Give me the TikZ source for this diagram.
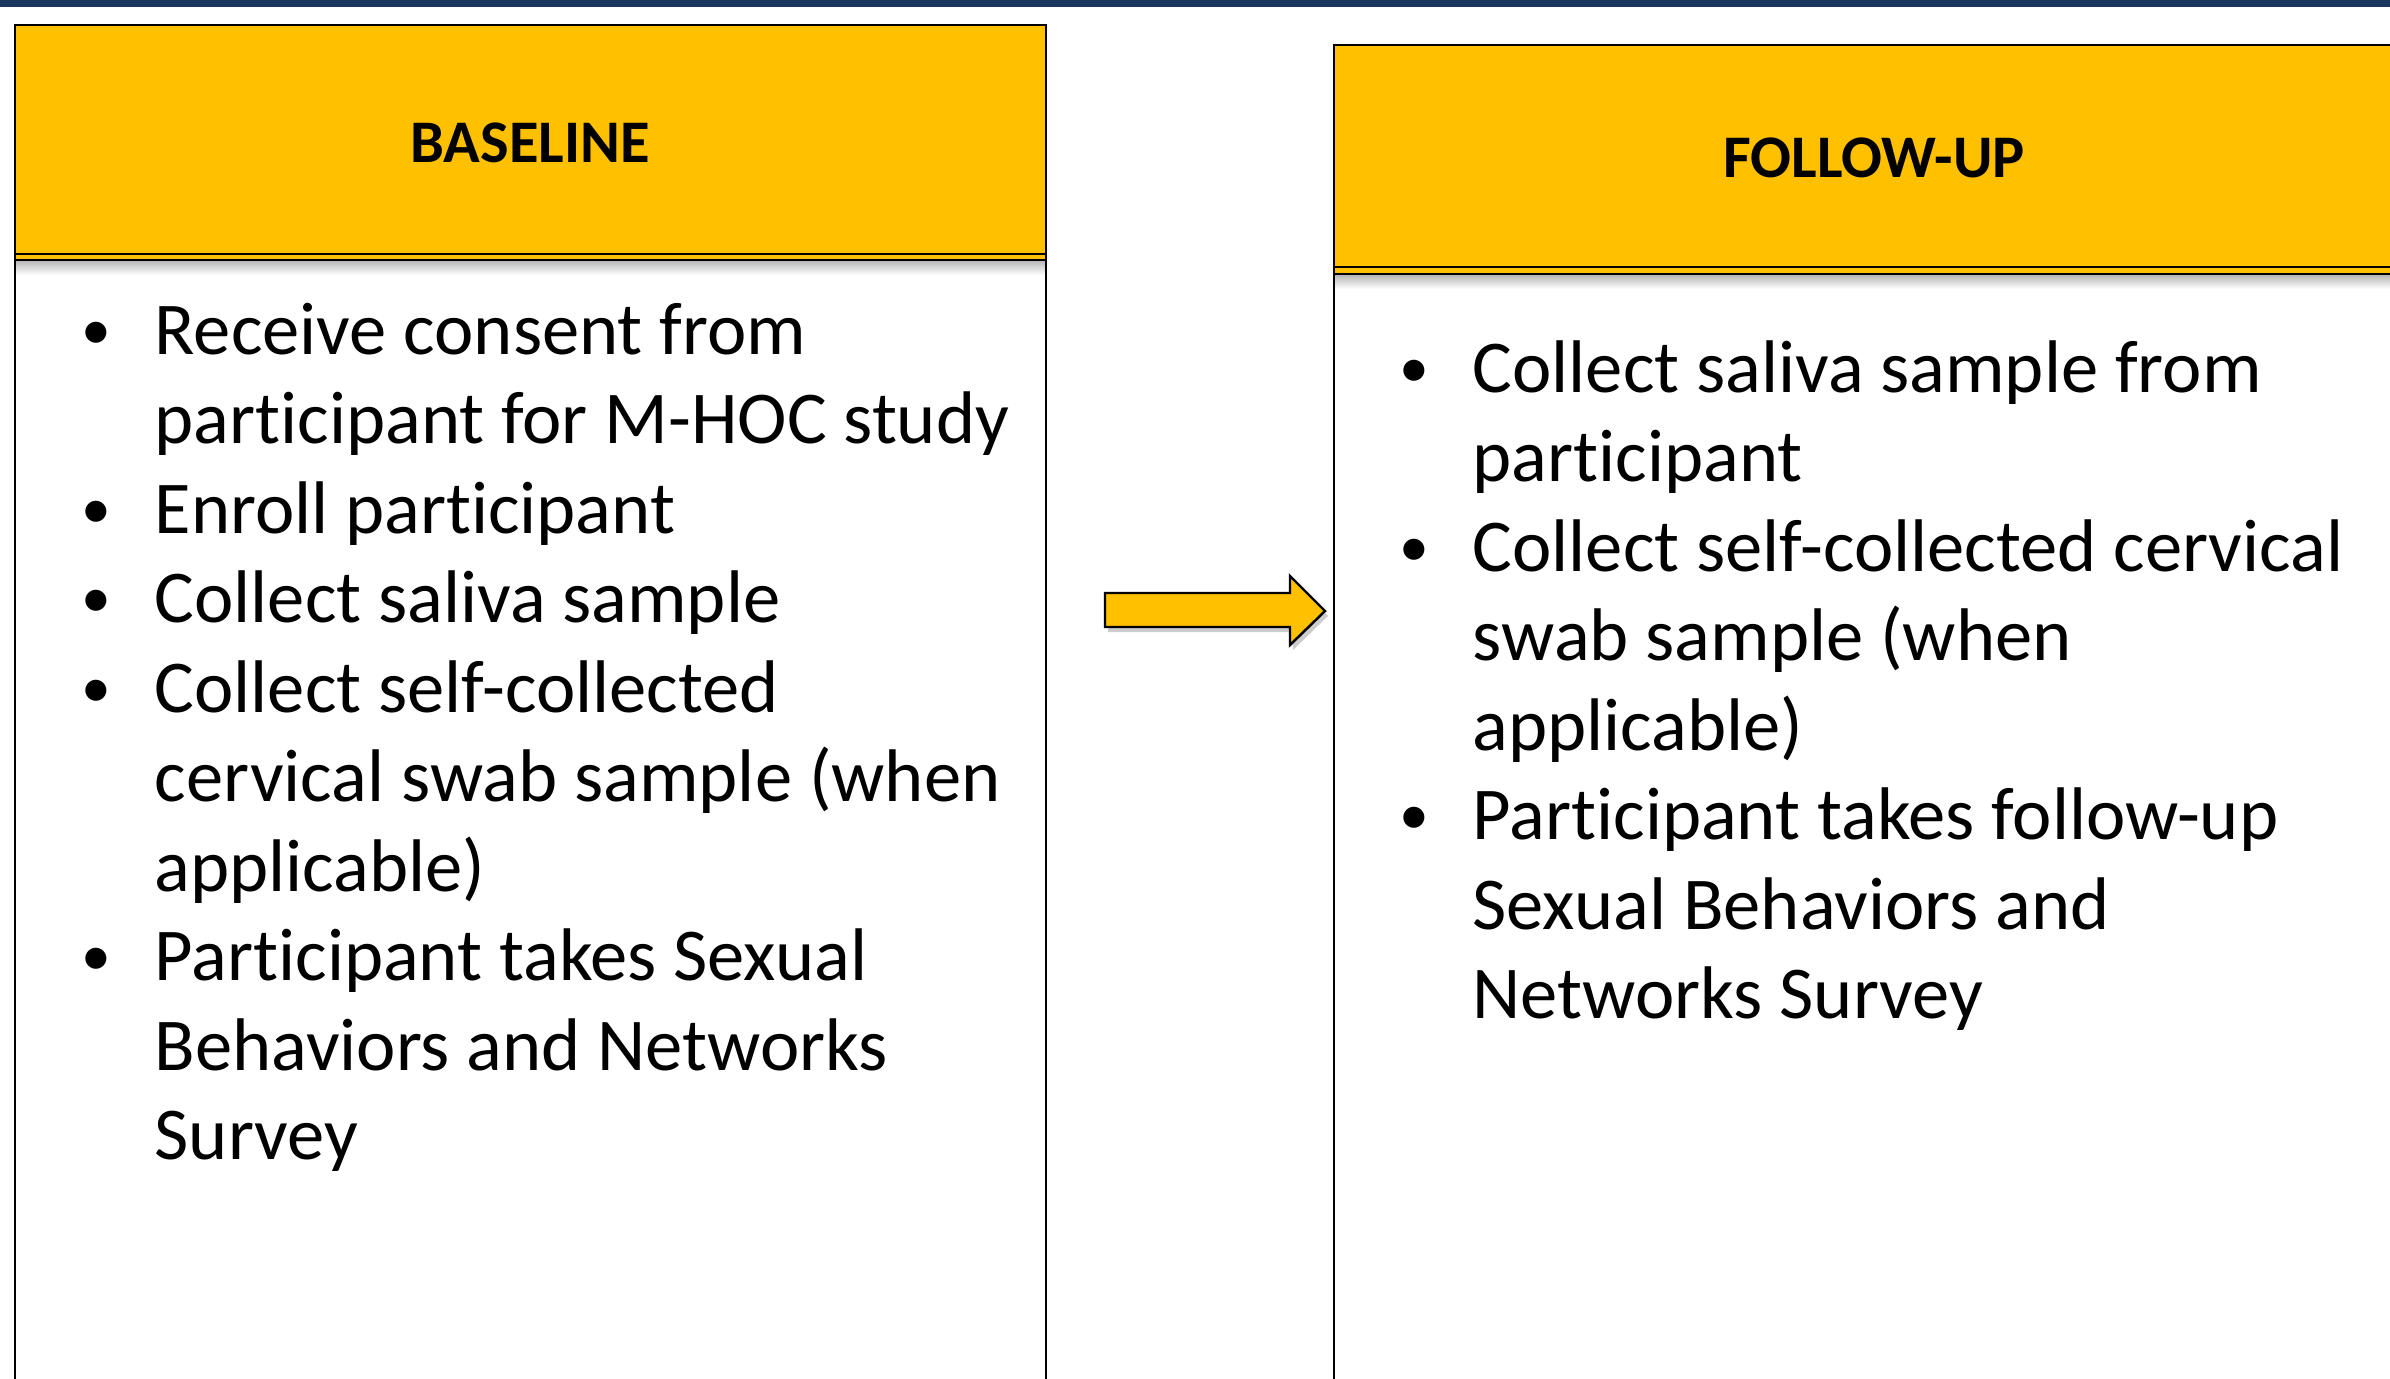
\documentclass[tikz,border=0pt]{standalone}
\usepackage{fontspec}
\setmainfont{Carlito}[Ligatures=NoCommon]
\usepackage{array}
\usepackage{graphicx}
\definecolor{gold}{HTML}{FFC000}
\definecolor{navy}{HTML}{1B375F}
\tikzset{
  x=0.01cm, y=-0.01cm,
  headbox/.style={draw=black, line width=0.8pt, fill=gold},
  bodyline/.style={draw=black, line width=0.45pt},
  headtext/.style={font=\fontsize{17.2}{20}\selectfont\bfseries, inner sep=0pt, anchor=base},
  listtext/.style={font=\fontsize{21.2}{25.46}\selectfont, inner sep=0pt, anchor=base west, align=left},
}
\newcommand{\bulrow}{\makebox[0.71cm][l]{\makebox[0.25cm][c]{\raisebox{0.05cm}{\scalebox{0.8}{\textbullet}}}}}
\begin{document}
\begin{tikzpicture}
\useasboundingbox (0,0) rectangle (2390,1378);
\begin{scope}
\clip (0,0) rectangle (2390,1378);
\fill[white] (0,0) rectangle (2390,1378);
\fill[navy] (0,0) rectangle (2390,7);
% left box
\shade[top color=black!30, bottom color=white] (15,260) rectangle (1046,275);
\draw[bodyline] (15,260) -- (15,1400);
\draw[bodyline] (1046,260) -- (1046,1400);
\path[headbox] (15,25) rectangle (1046,260);
\draw[line width=0.8pt] (15,254) -- (1046,254);
% right box
\shade[top color=black!30, bottom color=white] (1334,274) rectangle (2400,289);
\draw[bodyline] (1334,274) -- (1334,1400);
\path[headbox] (1334,45) rectangle (2420,274);
\draw[line width=0.8pt] (1334,267) -- (2420,267);
% arrow
\fill[black!20] (1108,598) -- (1293,598) -- (1293,581) -- (1328,616) -- (1293,650) -- (1293,632) -- (1108,632) -- cycle;
\draw[fill=gold, line width=0.7pt, line join=miter] (1105,593) -- (1290,593) -- (1290,576) -- (1325,611) -- (1290,645) -- (1290,627) -- (1105,627) -- cycle;
\end{scope}
\node[headtext] (hb) at (530,162) {BASELINE};
\node[headtext] (hf) at (1874,177) {FOLLOW-UP};
\node[listtext] (lb) at (83,354) {\begin{tabular}[t]{@{}l@{}l@{}}
\bulrow & Receive consent from\\
 & participant for M-HOC study\\
\bulrow & Enroll participant\\
\bulrow & Collect saliva sample\\
\bulrow & Collect self-collected\\
 & cervical swab sample (when\\
 & applicable)\\
\bulrow & Participant takes Sexual\\
 & Behaviors and Networks\\
 & Survey
\end{tabular}};
\node[listtext] (lf) at (1401,392) {\begin{tabular}[t]{@{}l@{}l@{}}
\bulrow & Collect saliva sample from\\
 & participant\\
\bulrow & Collect self-collected cervical\\
 & swab sample (when\\
 & applicable)\\
\bulrow & Participant takes follow-up\\
 & Sexual Behaviors and\\
 & Networks Survey
\end{tabular}};
\end{tikzpicture}
\end{document}
